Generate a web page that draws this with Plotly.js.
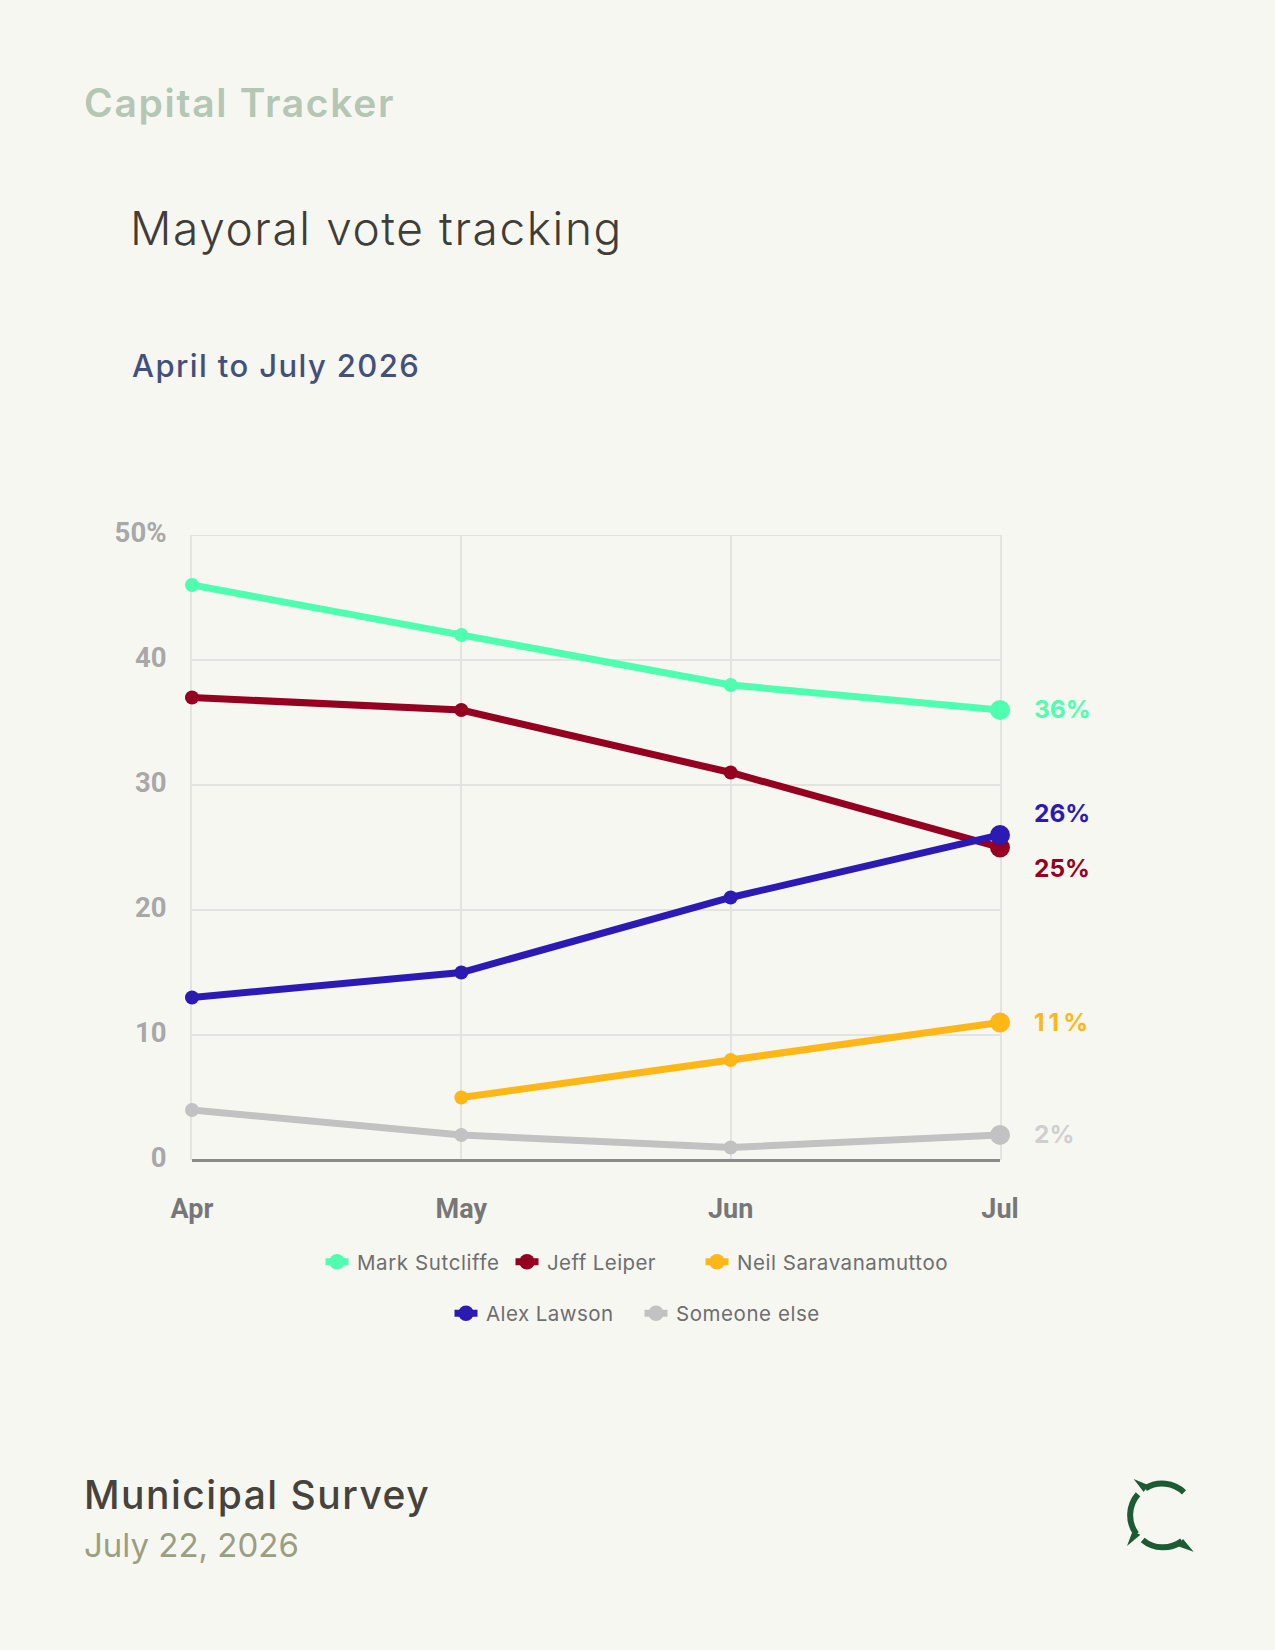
<!DOCTYPE html>
<html>
<head>
<meta charset="utf-8">
<script src="https://cdn.plot.ly/plotly-3.0.1.min.js"></script>
<style>
html,body{margin:0;padding:0;background:#f7f7f2;width:1275px;height:1650px;overflow:hidden}
#chart{position:absolute;left:0;top:0;width:1275px;height:1650px}
#logo{position:absolute;left:1102px;top:1460px;width:110px;height:110px}
.legendlines path{stroke-dasharray:0 3.5 23 100 !important;stroke-width:7px !important}
</style>
</head>
<body>
<div id="chart"></div>
<svg id="logo" viewBox="0 0 330 330">
  <g fill="none" stroke="#1c5c34" stroke-width="18">
    <path d="M130 85 A95 95 0 0 1 246 97"/>
    <path d="M108 103 A95 95 0 0 0 103 222"/>
    <path d="M122 240 A95 95 0 0 0 240 243"/>
  </g>
  <g fill="#1c5c34">
    <polygon points="95,57 140,76 125,96"/>
    <polygon points="75,258 92,213 115,224"/>
    <polygon points="275,275 243,237 226,258"/>
  </g>
</svg>
<script>
const months = ['Apr','May','Jun','Jul'];
const markSutcliffe = [46,42,38,36];
const jeffLeiper = [37,36,31,25];
const neilSaravanamuttoo = [null,5,8,11];
const alexLawson = [13,15,21,26];
const someoneElse = [4,2,1,2];
const yTicks = [0,10,20,30,40,50];
const yTickLabels = ['0','10','20','30','40','50%'];

const W=1275,H=1650,L=192,R=1000,T=535,B=1160;
const px=x=>(x-L)/(R-L), py=y=>(B-y)/(B-T);
const sizes=[14,14,14,20];
function spaced(text,ls){return '<span style="letter-spacing:'+ls+'px">'+text+'</span>';}
function series(name,y,color,legend,ls){
  return {type:'scatter',mode:'lines+markers',name:spaced(name,ls),x:months,y,legend,
    connectgaps:false,cliponaxis:false,
    line:{color,width:7},marker:{color,size:sizes,opacity:1,line:{width:0}},hoverinfo:'x+y'};
}
const traces=[
  series('Mark Sutcliffe',markSutcliffe,'#4effb0','legend',0.6),
  series('Jeff Leiper',jeffLeiper,'#950020','legend',0.4),
  series('Neil Saravanamuttoo',neilSaravanamuttoo,'#ffb718','legend2',0.55),
  series('Alex Lawson',alexLawson,'#2c1ab5','legend3',0.45),
  series('Someone else',someoneElse,'#c2c2c2','legend3',0.55)
];
const lab='Inter', head='Inter';
function endLabel(v,color,yshift,ls){
  return {x:'Jul',y:v,xref:'x',yref:'y',text:spaced(v+'%',ls||0),showarrow:false,xanchor:'left',yanchor:'middle',
    xshift:32,yshift,font:{family:lab,size:24.5,weight:700,color}};
}
function txt(text,x,yBase,size,weight,color,ls){
  return {xref:'paper',yref:'paper',x:px(x),y:py(yBase),xanchor:'left',yanchor:'bottom',showarrow:false,
    text:spaced(text,ls),align:'left',borderpad:0,font:{family:head,size,weight,color}};
}
const gridCol='#e3e3e0';
const legendFont={family:'Inter',size:20.5,weight:400,color:'#6e6e6e'};
const legendBase={orientation:'h',xanchor:'left',yanchor:'middle',bgcolor:'rgba(0,0,0,0)',
  font:legendFont,itemclick:false,itemdoubleclick:false};
const fixedCols={entrywidth:145,entrywidthmode:'pixels'};
const layout={
  width:W,height:H,
  paper_bgcolor:'#f7f7f2',plot_bgcolor:'#f7f7f2',
  margin:{l:L,r:W-R,t:T,b:H-B,pad:0},
  title:{text:spaced('Mayoral vote tracking',1.6),xref:'container',yref:'container',x:130/W,xanchor:'left',
    y:1-245/H,yanchor:'bottom',pad:{t:0,b:0,l:0,r:0},font:{family:head,size:46,weight:300,color:'#3f3d38'}},
  xaxis:{type:'category',categoryorder:'array',categoryarray:months,range:[0,3],layer:'below traces',
    showgrid:true,gridcolor:gridCol,gridwidth:2,showline:false,zeroline:false,ticks:'',
    tickfont:{family:'Roboto',size:27,weight:700,color:'#777777'},ticklabelstandoff:30,fixedrange:true},
  yaxis:{range:[0,50],tickmode:'array',tickvals:yTicks,ticktext:yTickLabels,layer:'below traces',
    showgrid:true,gridcolor:gridCol,gridwidth:2,showline:true,mirror:true,linecolor:gridCol,linewidth:2,
    zeroline:true,zerolinecolor:'#8a8a8a',zerolinewidth:3,ticks:'',
    tickfont:{family:'Roboto',size:27.5,weight:700,color:'#a8a8a8'},ticklabelstandoff:18,ticklabelshift:-3,fixedrange:true},
  shapes:[{type:'line',xref:'paper',yref:'y',x0:0,x1:1,y0:50,y1:50,layer:'below',line:{color:gridCol,width:2}}],
  legend:Object.assign({},legendBase,fixedCols,{x:px(317),y:py(1262)}),
  legend2:Object.assign({},legendBase,{x:px(697),y:py(1262)}),
  legend3:Object.assign({},legendBase,fixedCols,{x:px(446),y:py(1313.5)}),
  annotations:[
    endLabel(36,'#4effb0',1),
    endLabel(26,'#2c1ab5',22),
    endLabel(25,'#950020',-20),
    endLabel(11,'#ffb718',1,4),
    endLabel(2,'#cfcfcf',1),
    txt('Capital Tracker',83,127,39,600,'#b4c6b4',1.7),
    txt('April to July 2026',131,385,31,500,'#44507c',1.4),
    txt('Municipal Survey',83,1519,39,500,'#46423c',1.5),
    txt('July 22, 2026',83,1566,33,400,'#9a9f82',0)
  ]
};
Plotly.newPlot('chart',traces,layout,{displayModeBar:false,responsive:false});
</script>
</body>
</html>
